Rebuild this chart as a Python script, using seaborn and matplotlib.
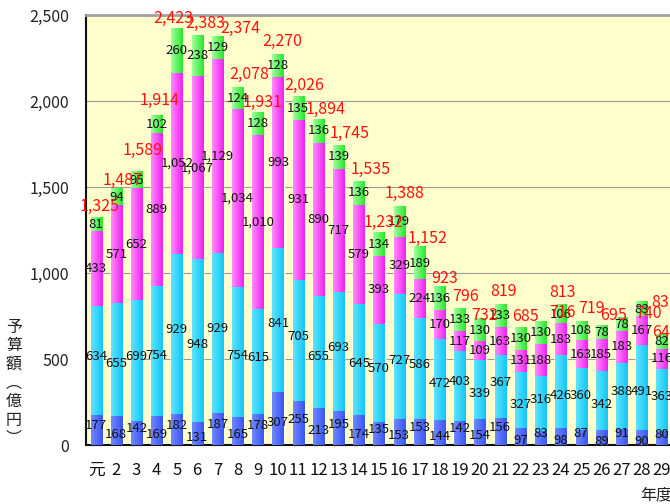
import numpy as np
import matplotlib
matplotlib.use("Agg")
import matplotlib.pyplot as plt
import seaborn as sns
import pandas as pd
from matplotlib.colors import LinearSegmentedColormap

# 年度別予算額（億円）
years = ["元"] + [str(i) for i in range(2, 30)]
base = [177, 168, 142, 169, 182, 131, 187, 165, 178, 307, 255, 213, 195, 174, 135,
        153, 153, 144, 142, 154, 156, 97, 83, 98, 87, 89, 91, 90, 80]
second = [634, 655, 699, 754, 929, 948, 929, 754, 615, 841, 705, 655, 693, 645, 570,
          727, 586, 472, 403, 339, 367, 327, 316, 426, 360, 342, 388, 491, 363]
third = [433, 571, 652, 889, 1052, 1067, 1129, 1034, 1010, 993, 931, 890, 717, 579, 393,
         329, 224, 170, 117, 109, 163, 131, 188, 183, 163, 185, 183, 167, 116]
fourth = [81, 94, 95, 102, 260, 238, 129, 124, 128, 128, 135, 136, 139, 136, 134,
          179, 189, 136, 133, 130, 133, 130, 130, 106, 108, 78, 78, 83, 82]
totals = [1325, 1487, 1589, 1914, 2423, 2383, 2374, 2078, 1931, 2270, 2026, 1894, 1745, 1535, 1232,
          1388, 1152, 923, 796, 732, 819, 685, 716, 813, 719, 695, 740, 831, 641]

# 合計ラベルの手動位置ずれ（ピクセル）
total_dx = [3.5, 6, 6, 3, -4, 8, 23, 12, 5, 4, 6, 7, 11, 12, 5, 5, 8, 5, 6, 5, 3, 5, 22, 2, 10, 12, 27, 23, 3]
total_rise = [11, 9, 21, 15, 10, 11, 8, 13, 10, 13, 11, 10, 12, 12, 11, 13, 8, 8, 12, 4, 13, 11, 9, 13, 13, 10, 4, 0, 2]

layers = [base, second, third, fourth]
# 左→右のグラデーション
grad_colors = [("#7088ff", "#3a56f2"),
               ("#60e4ff", "#12c6f6"),
               ("#ff8cff", "#f020f0"),
               ("#a0ffa0", "#28e628")]

sns.set_style("white")
plt.rcParams['font.family'] = ['Noto Sans CJK JP', 'DejaVu Sans']

fig = plt.figure(figsize=(6.7, 5.04), dpi=100)
ax = fig.add_axes([86 / 670, 59 / 504, 586 / 670, 430 / 504])
ax.set_facecolor("#ffffcc")

df = pd.DataFrame({"year": years})
cum = np.cumsum(np.array(layers), axis=0)
bar_w = 0.55

# 上の層から順に累積値を描く
layer_patches = {}
for k in range(len(layers) - 1, -1, -1):
    df["v"] = cum[k]
    n0 = len(ax.patches)
    sns.barplot(data=df, x="year", y="v", order=years, color=grad_colors[k][1],
                width=bar_w, saturation=1, ax=ax, zorder=2)
    layer_patches[k] = ax.patches[n0:n0 + len(years)]

grad = np.linspace(0, 1, 64).reshape(1, -1)
for k in range(len(layers)):
    cmap = LinearSegmentedColormap.from_list("g%d" % k, grad_colors[k])
    for i, p in enumerate(layer_patches[k]):
        y0 = cum[k - 1][i] if k > 0 else 0
        y1 = cum[k][i]
        x0 = p.get_x()
        ax.imshow(grad, extent=[x0, x0 + p.get_width(), y0, y1], cmap=cmap,
                  aspect="auto", interpolation="bilinear", zorder=3)

# 区分ごとの数値ラベル（下2段は交互に上下へずらす）
for k in range(len(layers)):
    for i, v in enumerate(layers[k]):
        y0 = cum[k - 1][i] if k > 0 else 0
        dy = (4 if i % 2 == 0 else -4) if k < 2 else 0
        ax.annotate(f"{v:,}", xy=(i, y0 + v / 2), xytext=(0, dy),
                    textcoords="offset pixels", ha="center", va="center",
                    fontsize=9.5, color="#111111", zorder=5)

# 合計ラベル
for i, t in enumerate(totals):
    ax.annotate(f"{t:,}", xy=(i, cum[-1][i]), xytext=(total_dx[i], total_rise[i]),
                textcoords="offset pixels", ha="center", va="center",
                fontsize=11.5, color="#ff1010", zorder=6, annotation_clip=False)

ax.set_xlim(-0.5, len(years) - 0.5)
ax.set_ylim(0, 2500)
ax.set_yticks([0, 500, 1000, 1500, 2000, 2500])
ax.set_yticklabels([f"{v:,}" for v in [0, 500, 1000, 1500, 2000, 2500]])
ax.yaxis.grid(True, color="#999999", linewidth=0.8)
ax.set_axisbelow(True)
ax.set_xlabel("")
ax.set_ylabel("")

ax.set_xticks(range(len(years)))
ax.set_xticklabels(years)
ax.set_xticks(np.arange(-0.5, len(years), 1), minor=True)
ax.tick_params(axis="x", which="major", length=0, pad=12, labelsize=12, labelcolor="#111111")
ax.tick_params(axis="x", which="minor", direction="in", length=4, color="#888888", width=0.8)
ax.tick_params(axis="y", length=0, pad=12, labelsize=11.5, labelcolor="#222222")

for s in ["left", "bottom"]:
    ax.spines[s].set_color("#111111")
    ax.spines[s].set_linewidth(1.5)
ax.spines["top"].set_color("#a0a0a0")
ax.spines["top"].set_linewidth(2)
ax.spines["right"].set_visible(False)

fig.text(14 / 670, 1 - 383 / 504, "\n".join("予算額︵億円︶"), ha="center", va="center",
         fontsize=11.5, linespacing=1.12, color="#222222")
fig.text(656 / 670, 1 - 495 / 504, "年度", ha="center", va="center",
         fontsize=11.5, color="#222222")

fig.savefig("out.png", dpi=100)
